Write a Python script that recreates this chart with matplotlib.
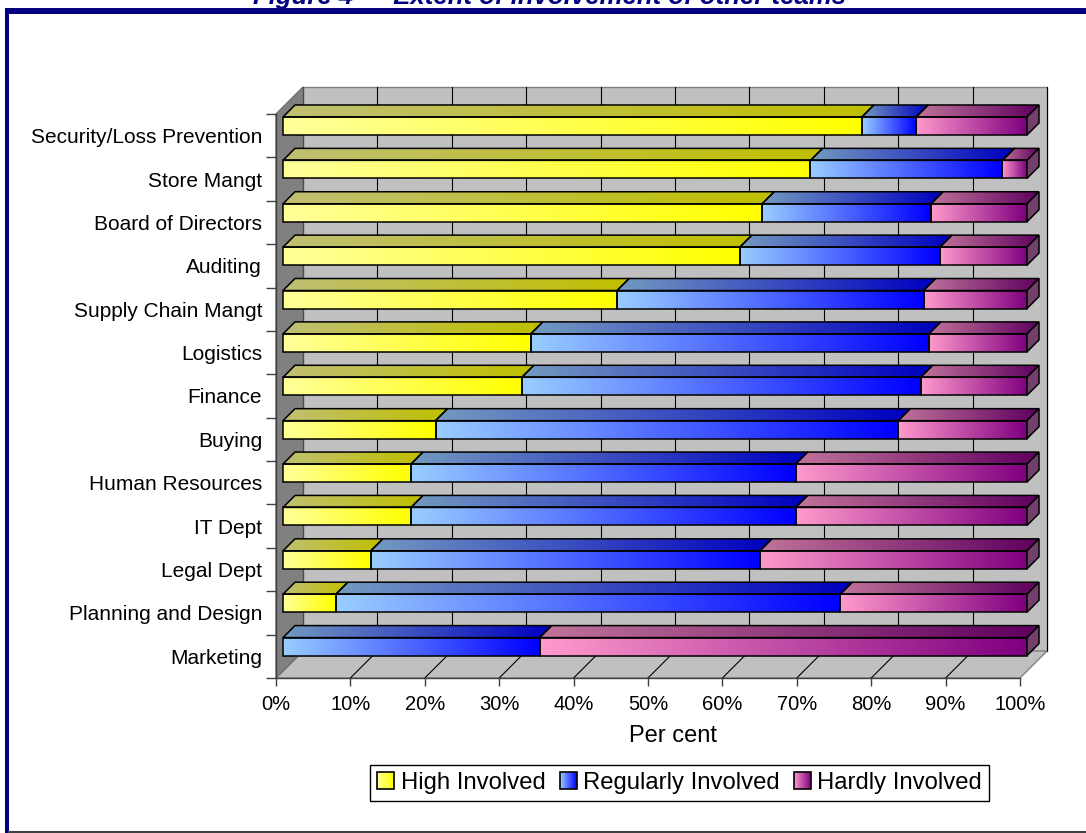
import numpy as np
import matplotlib
matplotlib.use('Agg')
import matplotlib.pyplot as plt
from matplotlib.patches import Polygon, Rectangle
from matplotlib.lines import Line2D
from matplotlib.legend_handler import HandlerBase
from matplotlib.image import BboxImage
from matplotlib.transforms import Bbox, TransformedBbox

plt.rcParams['font.family'] = ['Liberation Sans', 'DejaVu Sans']

teams = ['Security/Loss Prevention', 'Store Mangt', 'Board of Directors', 'Auditing',
         'Supply Chain Mangt', 'Logistics', 'Finance', 'Buying', 'Human Resources',
         'IT Dept', 'Legal Dept', 'Planning and Design', 'Marketing']
high_involved = [77.8, 70.9, 64.4, 61.4, 44.9, 33.3, 32.1, 20.5, 17.2, 17.2, 11.8, 7.1, 0.0]
regularly_involved = [7.3, 25.8, 22.7, 26.9, 41.2, 53.5, 53.6, 62.2, 51.7, 51.7, 52.3, 67.8, 34.5]
hardly_involved = [14.9, 3.3, 12.9, 11.7, 13.9, 13.2, 14.3, 17.3, 31.1, 31.1, 35.9, 25.1, 65.5]
series_names = ['High Involved', 'Regularly Involved', 'Hardly Involved']
pct_ticks = list(range(0, 101, 10))
pct_labels = [f'{t}%' for t in pct_ticks]

# light -> full colour of each series (front faces), top faces are 75% of these
GRADS = [((1.0, 1.0, 0.6), (1.0, 1.0, 0.0)),
         ((0.6, 0.8, 1.0), (0.0, 0.0, 1.0)),
         ((1.0, 0.6, 0.8), (0.5, 0.0, 0.5))]
SIDE = (0.45, 0.25, 0.42)
NAVY = '#000080'


def gradient(c0, c1, scale=1.0, steps=64):
    t = np.linspace(0, 1, steps)[:, None]
    cols = (1 - t) * np.array(c0) + t * np.array(c1)
    return np.clip(cols * scale, 0, 1)[None, :, :]


class GradientHandler(HandlerBase):
    def __init__(self, c0, c1):
        super().__init__()
        self.c0, self.c1 = c0, c1

    def create_artists(self, legend, orig_handle, xdescent, ydescent,
                       width, height, fontsize, trans):
        box = Bbox.from_bounds(-xdescent, -ydescent, width, height)
        img = BboxImage(TransformedBbox(box, trans), interpolation='bilinear')
        img.set_data(gradient(self.c0, self.c1))
        edge = Rectangle((-xdescent, -ydescent), width, height, fill=False,
                         ec='black', lw=1.2, transform=trans)
        return [img, edge]


W, H = 1086, 833
fig = plt.figure(figsize=(W / 100, H / 100), dpi=100)

# front plane of the 3d box, in pixels
X0, X1, Y0, Y1 = 276, 1020, 114, 678
ax = fig.add_axes([X0 / W, 1 - Y1 / H, (X1 - X0) / W, (Y1 - Y0) / H])
n = len(teams)
ax.set_xlim(0, 100)
ax.set_ylim(n, 0)
ax.set_autoscale_on(False)
ax.patch.set_visible(False)

ux = 100 / (X1 - X0)
uy = n / (Y1 - Y0)
DEPTH = 27


def pt(x, y, d):
    # shift a data point d pixels back into the box
    return (x + d * ux, y - d * uy)


# walls and floor
ax.add_patch(Polygon([pt(0, 0, DEPTH), pt(100, 0, DEPTH), pt(100, n, DEPTH), pt(0, n, DEPTH)],
                     fc='#c0c0c0', ec='#808080', lw=1, zorder=0, clip_on=False))
for t in pct_ticks:
    ax.plot(*zip(pt(t, 0, DEPTH), pt(t, n, DEPTH)), color='black', lw=0.8, zorder=0.1, clip_on=False)
ax.add_patch(Polygon([pt(0, n, 0), pt(100, n, 0), pt(100, n, DEPTH), pt(0, n, DEPTH)],
                     fc='#c0c0c0', ec='#808080', lw=1, zorder=0.2, clip_on=False))
for t in pct_ticks[1:-1]:
    ax.plot(*zip(pt(t, n, 0), pt(t, n, DEPTH)), color='black', lw=0.8, zorder=0.3, clip_on=False)
ax.add_patch(Polygon([pt(0, 0, 0), pt(0, 0, DEPTH), pt(0, n, DEPTH), pt(0, n, 0)],
                     fc='#808080', ec='#707070', lw=1, zorder=0.4, clip_on=False))

# stacked 3d bars
values = np.array([high_involved, regularly_involved, hardly_involved])
starts = np.vstack([np.zeros(n), np.cumsum(values, axis=0)[:-1]])
D0, D1 = 7, 19
BAR_TOP, BAR_BOT = 0.23, 0.645
LW = 1.1

for i in range(n):
    yt, yb = i + BAR_TOP, i + BAR_BOT
    last = max(s for s in range(3) if values[s, i] > 0)
    for s in range(3):
        v = values[s, i]
        if v <= 0:
            continue
        a, b = starts[s, i], starts[s, i] + v
        c0, c1 = GRADS[s]
        # front face
        l, top = pt(a, yt, D0)
        r, bot = pt(b, yb, D0)
        ax.imshow(gradient(c0, c1), extent=(l, r, bot, top), aspect='auto',
                  interpolation='bilinear', zorder=2, clip_on=False)
        ax.add_patch(Rectangle((l, top), r - l, bot - top, fill=False, ec='black',
                               lw=LW, zorder=2.5, clip_on=False))
        # top face
        poly = Polygon([pt(a, yt, D0), pt(b, yt, D0), pt(b, yt, D1), pt(a, yt, D1)],
                       fill=False, ec='black', lw=LW, zorder=2.5, clip_on=False)
        ax.add_patch(poly)
        tl = pt(a, yt, D0)[0]
        tr = pt(b, yt, D1)[0]
        tt = pt(a, yt, D1)[1]
        tb = pt(a, yt, D0)[1]
        im = ax.imshow(gradient(c0, c1, 0.75), extent=(tl, tr, tb, tt), aspect='auto',
                       interpolation='bilinear', zorder=2)
        im.set_clip_path(poly)
        im.set_clip_box(fig.bbox)
        # right end face
        if s == last:
            ax.add_patch(Polygon([pt(b, yt, D0), pt(b, yt, D1), pt(b, yb, D1), pt(b, yb, D0)],
                                 fc=SIDE, ec='black', lw=LW, zorder=2.5, clip_on=False))

# axes, ticks and labels
ax.set_xticks(pct_ticks, pct_labels)
ax.tick_params(axis='x', length=6, width=1, color='#404040', pad=6, labelsize=14.5)
ax.set_yticks(range(n + 1), [''] * (n + 1))
ax.set_yticks(np.arange(n) + 0.5, teams, minor=True)
ax.tick_params(axis='y', which='major', length=7.5, width=1, color='#404040')
ax.tick_params(axis='y', which='minor', length=0, pad=10, labelsize=15)
for side in ['top', 'right']:
    ax.spines[side].set_visible(False)
for side in ['left', 'bottom']:
    ax.spines[side].set_color('#404040')
    ax.spines[side].set_linewidth(1)

fig.text(673 / W, 1 - 736 / H, 'Per cent', ha='center', va='center', fontsize=17)

handles = [Rectangle((0, 0), 1, 1) for _ in series_names]
hmap = {h: GradientHandler(*GRADS[k]) for k, h in enumerate(handles)}
leg = fig.legend(handles, series_names, handler_map=hmap, loc='center',
                 bbox_to_anchor=(679.5 / W, 1 - 783 / H), ncol=3, fontsize=17.2,
                 frameon=True, fancybox=False, framealpha=1, edgecolor='black',
                 borderpad=0.3, handlelength=0.71, handleheight=0.67,
                 handletextpad=0.26, columnspacing=0.6, borderaxespad=0)
leg.get_frame().set_linewidth(1)

# heading (cut by the page top, as in the source) and page frame
fig.text(550 / W, 1 - 4 / H, 'Figure 4 \u2014 Extent of involvement of other teams',
         ha='center', va='baseline', color=NAVY, fontweight='bold', fontstyle='italic',
         fontsize=18.5)
fig.add_artist(Rectangle((5 / W, 0), 4 / W, 1 - 8 / H, transform=fig.transFigure,
                         fc=NAVY, ec='none'))
fig.add_artist(Rectangle((5 / W, 1 - 14 / H), 1 - 5 / W, 6 / H, transform=fig.transFigure,
                         fc=NAVY, ec='none'))
fig.add_artist(Line2D([9 / W, 1], [1.5 / H, 1.5 / H], transform=fig.transFigure,
                      color='#404040', lw=1.5))

fig.savefig('out.png', dpi=100)
